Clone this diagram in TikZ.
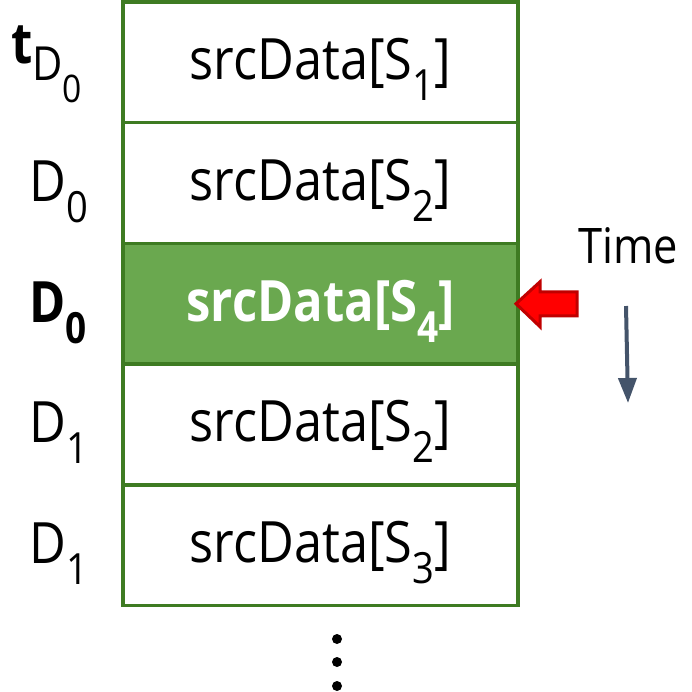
\documentclass[tikz,border=0pt]{standalone}
\usepackage{fontspec}
\setmainfont{Open Sans}[FakeStretch=0.886, BoldFeatures={FakeStretch=0.86}]
\usetikzlibrary{arrows.meta}
\definecolor{cellgreen}{HTML}{3E7B22}
\definecolor{fillgreen}{HTML}{6AA84F}
\definecolor{arrowred}{HTML}{FF0000}
\definecolor{arrowedge}{HTML}{C00000}
\definecolor{slate}{HTML}{44546A}
\newcommand{\bigfont}{\fontsize{57}{60}\selectfont}
\newcommand{\subfont}{\fontsize{43}{45}\selectfont}
\newcommand{\lowsub}[1]{\raisebox{-21pt}{\subfont #1}}
\tikzset{
  cell/.style={draw=cellgreen, line width=3.5pt, minimum width=395pt,
    minimum height=120.7pt, inner sep=0pt, outer sep=0pt},
  hot/.style={cell, fill=fillgreen},
  celltext/.style={anchor=base, inner sep=0pt, font=\bigfont},
  rowlabel/.style={anchor=base west, inner sep=0pt, font=\bigfont},
  dot/.style={circle, fill=black, inner sep=0pt, minimum size=10pt},
  timearrow/.style={draw=slate, line width=4pt,
    -{Triangle[width=18pt,length=25pt]}},
}
\begin{document}
\begin{tikzpicture}[x=1pt, y=-1pt]
\useasboundingbox (0,0) rectangle (692,691);

% the five slots of the buffer
\node[cell] (c1) at (320.5,62.35) {};
\node[cell] (c2) at (320.5,183.05) {};
\node[cell] (c4) at (320.5,424.45) {};
\node[cell] (c5) at (320.5,545.15) {};
\node[hot]  (c3) at (320.5,303.75) {};

% slot contents
\node[celltext] (t1) at ([yshift=-17.5pt]c1.center) {srcData[S\lowsub{1}]};
\node[celltext] (t2) at ([yshift=-17.5pt]c2.center) {srcData[S\lowsub{2}]};
\node[celltext, text=white, font=\bigfont\bfseries] (t3) at ([yshift=-17.5pt]c3.center) {srcData[S\lowsub{4}]};
\node[celltext] (t4) at ([yshift=-17.5pt]c4.center) {srcData[S\lowsub{2}]};
\node[celltext] (t5) at ([yshift=-17.5pt]c5.center) {srcData[S\lowsub{3}]};

% row labels on the left
\node[rowlabel] (l1) at (11,63) {\textbf{t}\raisebox{-17pt}{\fontsize{47}{50}\selectfont D\raisebox{-22pt}{\fontsize{38}{40}\selectfont 0}}};
\node[rowlabel] (l2) at (29,201) {D\lowsub{0}};
\node[rowlabel, font=\bigfont\bfseries] (l3) at (29,322) {D\lowsub{0}};
\node[rowlabel] (l4) at (29,442.5) {D\lowsub{1}};
\node[rowlabel] (l5) at (29,563) {D\lowsub{1}};

% pointer to the current slot
\coordinate (tip) at ([xshift=-2pt]c3.east);
\draw[draw=arrowedge, fill=arrowred, line width=3pt, line join=miter]
  (tip) -- ++(24,-22) -- ++(0,10) -- ++(37,0) -- ++(0,24)
  -- ++(-37,0) -- ++(0,11) -- cycle;

% time direction
\node[anchor=base west, inner sep=0pt, font=\fontsize{49}{52}\selectfont] (time) at (578,263) {Time};
\coordinate (ts) at (626,306);
\coordinate (te) at (628,403);
\draw[timearrow] (ts) -- (te);

% continuation dots
\node[dot] (d1) at (337,639) {};
\node[dot] (d2) at (337,662) {};
\node[dot] (d3) at (337,686) {};
\end{tikzpicture}
\end{document}
